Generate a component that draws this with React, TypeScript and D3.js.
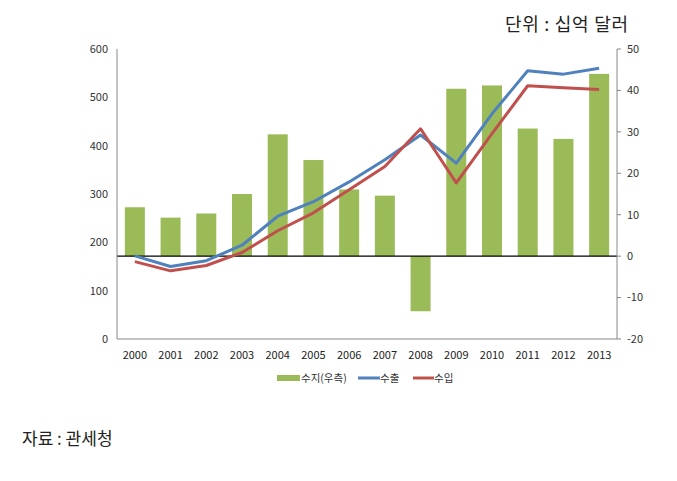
import React from "react";
import * as d3 from "d3";

const years = ["2000","2001","2002","2003","2004","2005","2006","2007","2008","2009","2010","2011","2012","2013"];
const balance = [11.8, 9.3, 10.3, 15.0, 29.4, 23.2, 16.1, 14.6, -13.3, 40.4, 41.2, 30.8, 28.3, 44.0];
const exportsV = [172, 150, 162, 194, 254, 284, 325, 371, 422, 364, 466, 555, 548, 560];
const importsV = [160, 141, 152, 179, 224, 261, 309, 357, 435, 323, 425, 524, 520, 516];
const leftTicks = [0, 100, 200, 300, 400, 500, 600];
const rightTicks = [-20, -10, 0, 10, 20, 30, 40, 50];
const legendItems = ["수지(우측)", "수출", "수입"];

const W = 677, H = 481;
const L = 117, R = 617, T = 49, B = 339;
const GREEN = "#9BBB59", BLUE = "#4F81BD", RED = "#C0504D";
const FONT = "'Noto Sans CJK KR', 'Noto Sans', sans-serif";

export default function App() {
  const x = d3.scaleBand().domain(years).range([L, R]).paddingInner(0.44).paddingOuter(0.22);
  const xc = (y: string) => (x(y) as number) + x.bandwidth() / 2;
  const yl = d3.scaleLinear().domain([0, 600]).range([B, T]);
  const yr = d3.scaleLinear().domain([-20, 50]).range([B, T]);
  const line = d3.line<number>().x((_, i) => xc(years[i])).y((d) => yl(d));

  return (
    <svg width={W} height={H} style={{ position: "absolute", left: 0, top: 0, background: "#fff" }}>
      <rect x={0} y={0} width={W} height={H} fill="#fff" />
      <text x={505} y={31} textLength={123} lengthAdjust="spacing" fontFamily={FONT} fontSize={18} fill="#222">단위 : 십억 달러</text>
      {balance.map((v, i) => (
        <rect key={i} x={x(years[i])} width={x.bandwidth()} y={Math.min(yr(v), yr(0))}
          height={Math.abs(yr(v) - yr(0))} fill={GREEN} />
      ))}
      <line x1={L} x2={R} y1={yr(0)} y2={yr(0)} stroke="#000" strokeWidth={1.2} />
      <line x1={L} x2={L} y1={T} y2={B} stroke="#888" strokeWidth={1} />
      <line x1={L} x2={R} y1={B} y2={B} stroke="#888" strokeWidth={1} />
      <line x1={R} x2={R} y1={T} y2={B} stroke="#888" strokeWidth={1} />
      {leftTicks.map((t) => (
        <text key={t} x={108} y={yl(t)} dy="0.35em" textAnchor="end" fontFamily={FONT} fontSize={11} fill="#333">{t}</text>
      ))}
      {rightTicks.map((t) => (
        <g key={t}>
          <line x1={R} x2={R + 4} y1={yr(t)} y2={yr(t)} stroke="#888" />
          <text x={627} y={yr(t)} dy="0.35em" textAnchor="start" fontFamily={FONT} fontSize={11} fill="#333">{t}</text>
        </g>
      ))}
      {years.map((y) => (
        <text key={y} x={xc(y)} y={355} dy="0.35em" textAnchor="middle" fontFamily={FONT} fontSize={11} fill="#222">{y}</text>
      ))}
      <path d={line(exportsV) as string} fill="none" stroke={BLUE} strokeWidth={3} strokeLinejoin="round" />
      <path d={line(importsV) as string} fill="none" stroke={RED} strokeWidth={3} strokeLinejoin="round" />
      <g fontFamily={FONT} fontSize={10.5} fill="#333">
        <rect x={277} y={375} width={23} height={6} fill={GREEN} />
        <text x={301} y={378} dy="0.35em">{legendItems[0]}</text>
        <line x1={358} x2={380} y1={378} y2={378} stroke={BLUE} strokeWidth={3} />
        <text x={380} y={378} dy="0.35em">{legendItems[1]}</text>
        <line x1={413} x2={434} y1={378} y2={378} stroke={RED} strokeWidth={3} />
        <text x={434} y={378} dy="0.35em">{legendItems[2]}</text>
      </g>
      <text x={22} y={445} fontFamily={FONT} fontSize={17} fill="#222">자료 : 관세청</text>
    </svg>
  );
}
